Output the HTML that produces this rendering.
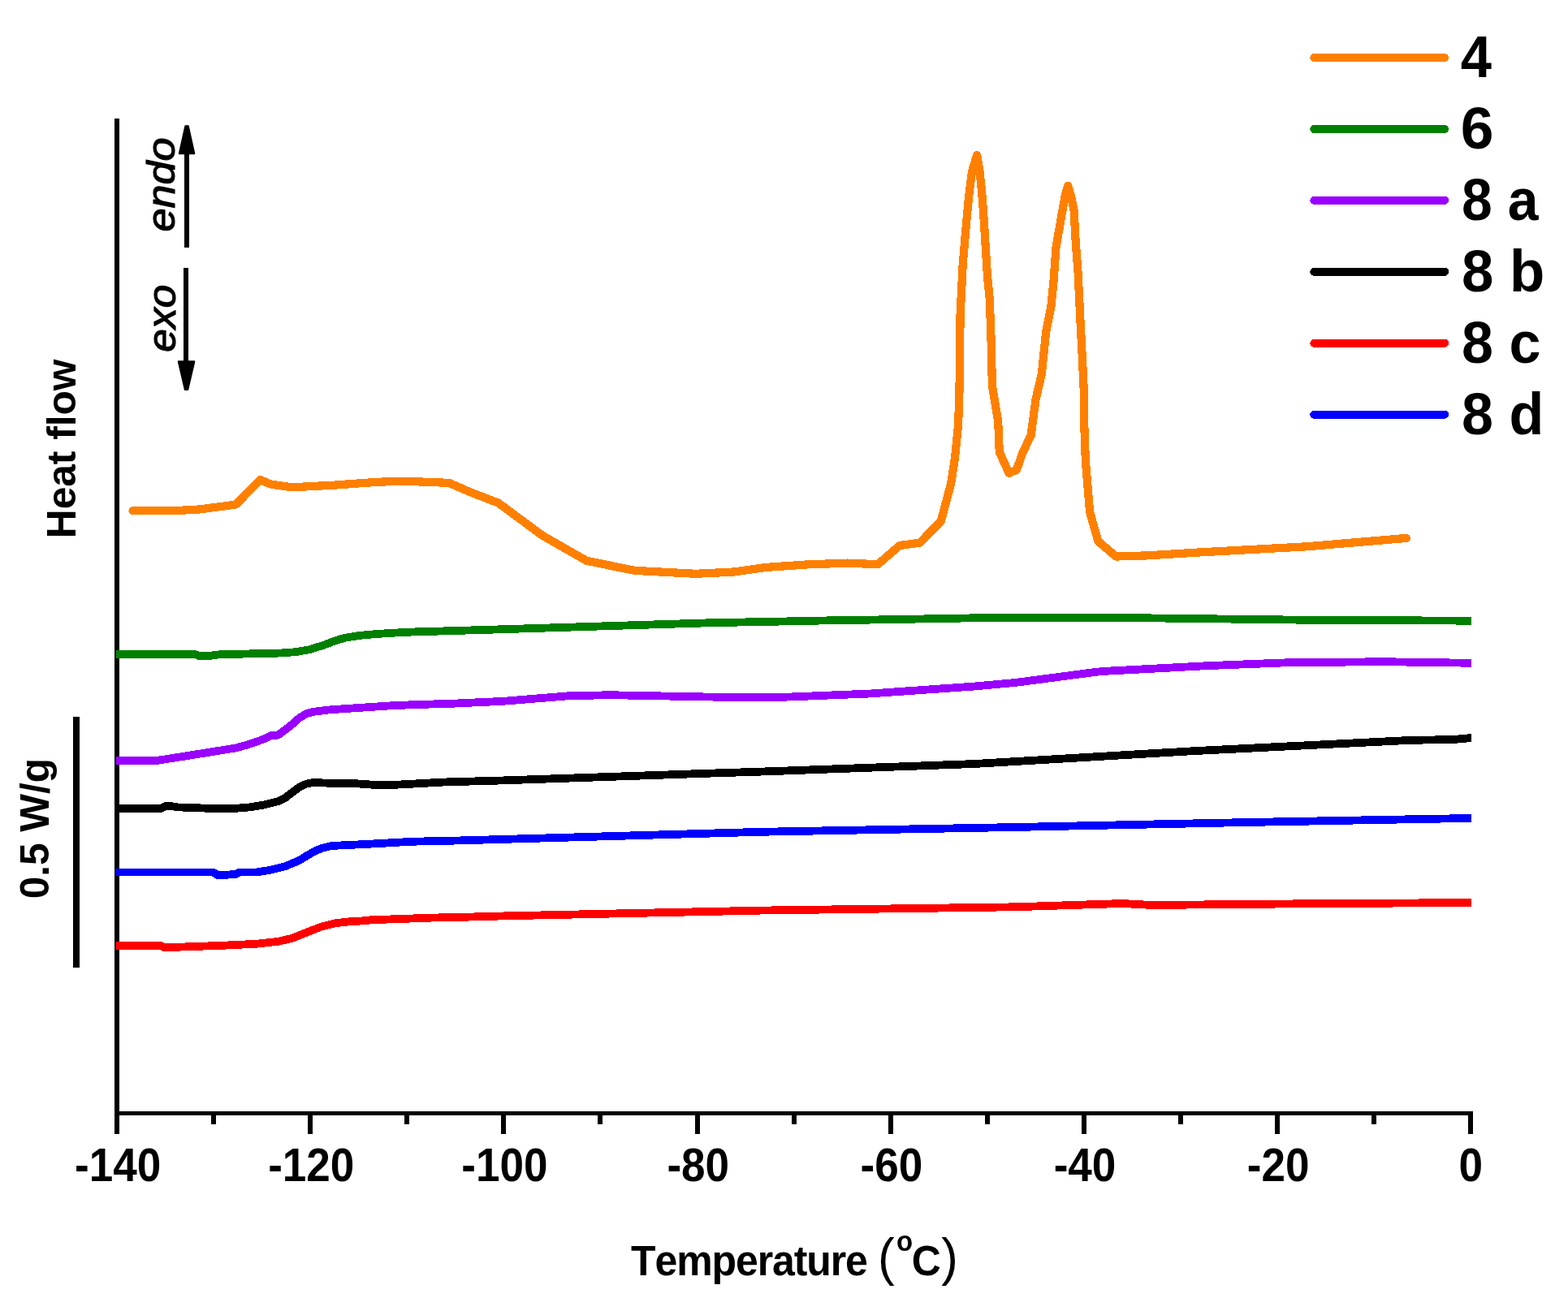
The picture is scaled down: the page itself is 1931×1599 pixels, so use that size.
<!DOCTYPE html>
<html lang="en"><head><meta charset="utf-8"><title>DSC heat flow</title>
<style>
html,body{margin:0;padding:0;background:#fff;}
body{width:1931px;height:1599px;overflow:hidden;}
svg{display:block;font-family:"Liberation Sans",Arial,Helvetica,sans-serif;font-kerning:none;}
</style></head><body>
<svg width="1931" height="1599" viewBox="0 0 1931 1599">
<rect width="1931" height="1599" fill="#fff"/>
<g fill="#000" shape-rendering="crispEdges">
<rect x="141" y="146" width="6" height="1228"/>
<rect x="141" y="1369" width="1673" height="5"/>
<rect x="141" y="1371" width="6" height="26"/>
<rect x="260" y="1371" width="6" height="14"/>
<rect x="379" y="1371" width="6" height="26"/>
<rect x="498" y="1371" width="6" height="14"/>
<rect x="617" y="1371" width="6" height="26"/>
<rect x="736" y="1371" width="6" height="14"/>
<rect x="856" y="1371" width="6" height="26"/>
<rect x="975" y="1371" width="6" height="14"/>
<rect x="1094" y="1371" width="6" height="26"/>
<rect x="1213" y="1371" width="6" height="14"/>
<rect x="1332" y="1371" width="6" height="26"/>
<rect x="1451" y="1371" width="6" height="14"/>
<rect x="1570" y="1371" width="6" height="26"/>
<rect x="1689" y="1371" width="6" height="14"/>
<rect x="1808" y="1371" width="6" height="26"/>
</g>
<polyline points="163.5,629.3 221.7,628.8 245.0,627.5 290.3,621.6 320.6,591.0 333.0,596.4 359.0,600.3 410.7,597.7 462.5,593.9 496.0,592.6 553.0,594.9 580.0,606.6 613.7,619.6 668.0,659.7 722.4,690.8 782.0,702.9 857.0,706.8 903.7,704.5 942.5,699.0 994.3,695.4 1043.5,693.6 1081.1,695.2 1108.0,672.0 1132.9,668.5 1158.8,642.0 1171.2,595.4 1176.0,564.3 1180.1,522.9 1181.5,481.4 1182.0,440.0 1182.6,387.9 1185.7,325.7 1189.2,284.3 1193.0,242.9 1196.9,211.8 1203.1,191.0 1206.6,211.8 1209.3,238.4 1211.8,272.5 1213.9,306.7 1216.0,340.0 1218.6,367.1 1220.3,408.6 1221.1,440.0 1221.9,475.2 1229.2,518.7 1230.8,557.0 1242.6,582.9 1252.0,578.8 1259.2,558.1 1269.6,536.3 1275.6,491.8 1282.8,460.7 1288.2,408.6 1294.4,377.5 1297.5,346.4 1300.5,305.0 1306.9,267.7 1312.2,238.7 1315.2,228.8 1319.3,242.9 1322.6,259.4 1324.5,294.6 1327.6,336.1 1329.6,377.5 1331.7,418.9 1332.8,440.0 1334.8,481.4 1335.4,527.0 1336.9,568.4 1342.1,630.6 1352.4,666.8 1374.2,685.5 1412.5,684.4 1479.5,680.3 1609.0,673.3 1732.0,662.9" fill="none" stroke="#FF8000" stroke-width="10.2" stroke-linecap="round" stroke-linejoin="round" shape-rendering="crispEdges"/>
<polyline points="143.0,805.9 240.0,805.9 245.0,807.9 258.0,807.9 270.0,806.3 300.0,805.6 320.0,805.1 346.3,804.5 363.8,803.2 381.3,800.2 398.8,794.7 411.9,789.5 425.1,785.7 442.6,782.9 460.1,781.3 480.0,779.9 508.4,778.5 560.0,777.0 620.0,775.2 876.0,767.2 940.0,766.0 1037.6,764.0 1060.0,763.8 1200.0,761.3 1385.0,761.0 1604.0,763.7 1812.0,764.7" fill="none" stroke="#008000" stroke-width="9.8" stroke-linecap="butt" stroke-linejoin="round" shape-rendering="crispEdges"/>
<polyline points="143.0,937.0 193.0,937.0 233.5,930.6 290.0,921.5 307.5,916.7 325.0,910.4 333.8,906.1 342.5,905.6 351.3,899.0 360.0,892.1 368.8,884.3 377.6,879.0 386.3,876.8 403.8,874.6 421.3,873.3 450.0,871.4 480.0,869.4 508.4,868.2 560.0,866.6 620.0,863.8 701.0,857.2 751.5,856.2 876.0,858.6 940.0,859.0 970.3,858.6 1071.3,854.5 1200.0,845.5 1250.0,841.0 1351.5,827.6 1365.0,826.6 1486.0,820.2 1587.0,816.2 1705.0,815.2 1812.0,816.8" fill="none" stroke="#9900FF" stroke-width="9.8" stroke-linecap="butt" stroke-linejoin="round" shape-rendering="crispEdges"/>
<polyline points="143.0,995.8 199.0,995.8 204.0,992.8 209.0,992.8 219.0,994.4 255.0,995.7 290.0,995.8 307.5,994.4 325.0,991.5 342.5,987.1 351.3,982.8 360.0,976.2 368.8,969.5 377.6,965.5 386.3,963.9 403.8,964.7 438.9,965.3 464.4,967.1 490.3,966.6 547.2,963.5 620.0,961.4 869.3,952.8 940.0,950.5 1200.0,941.0 1469.3,925.2 1738.6,911.8 1789.0,911.1 1812.0,909.0" fill="none" stroke="#000000" stroke-width="9.8" stroke-linecap="butt" stroke-linejoin="round" shape-rendering="crispEdges"/>
<polyline points="143.0,1165.0 197.7,1165.0 202.9,1167.3 275.4,1164.7 290.0,1164.0 316.3,1162.7 342.5,1159.8 360.0,1155.8 377.6,1148.7 395.1,1141.8 412.6,1137.3 430.1,1135.3 450.0,1134.2 456.6,1133.3 534.3,1130.5 560.0,1130.1 620.0,1128.4 936.6,1121.6 1250.0,1117.3 1381.8,1113.0 1418.8,1115.0 1604.0,1113.3 1812.0,1112.0" fill="none" stroke="#FF0000" stroke-width="9.8" stroke-linecap="butt" stroke-linejoin="round" shape-rendering="crispEdges"/>
<polyline points="143.0,1074.4 262.4,1074.4 268.9,1078.5 290.0,1076.9 295.3,1074.6 316.3,1074.5 333.8,1071.6 351.3,1067.2 368.8,1059.8 377.6,1054.3 386.3,1049.4 395.1,1045.3 408.2,1042.0 425.7,1041.1 450.0,1040.0 508.4,1036.7 560.0,1035.6 620.0,1033.9 936.6,1024.8 1250.0,1019.0 1536.6,1013.0 1812.0,1007.9" fill="none" stroke="#0000FF" stroke-width="9.8" stroke-linecap="butt" stroke-linejoin="round" shape-rendering="crispEdges"/>
<text transform="translate(92.02,1454.8) scale(0.9651,1.04)" font-weight="bold" font-size="55" fill="#000">-140</text>
<text transform="translate(330.16,1454.8) scale(0.9651,1.04)" font-weight="bold" font-size="55" fill="#000">-120</text>
<text transform="translate(568.30,1454.8) scale(0.9651,1.04)" font-weight="bold" font-size="55" fill="#000">-100</text>
<text transform="translate(821.41,1454.8) scale(0.9651,1.04)" font-weight="bold" font-size="55" fill="#000">-80</text>
<text transform="translate(1059.55,1454.8) scale(0.9651,1.04)" font-weight="bold" font-size="55" fill="#000">-60</text>
<text transform="translate(1297.69,1454.8) scale(0.9651,1.04)" font-weight="bold" font-size="55" fill="#000">-40</text>
<text transform="translate(1535.83,1454.8) scale(0.9651,1.04)" font-weight="bold" font-size="55" fill="#000">-20</text>
<text transform="translate(1796.62,1454.8) scale(0.9651,1.04)" font-weight="bold" font-size="55" fill="#000">0</text>
<text transform="translate(93.20,663.18) rotate(-90) scale(0.9927,1.0083)" font-weight="bold" font-style="normal" font-size="50" fill="#000">Heat flow</text>
<text transform="translate(60.33,1107.28) rotate(-90) scale(0.9894,0.9870)" font-weight="bold" font-style="normal" font-size="50" fill="#000">0.5 W/g</text>
<text transform="translate(1798.72,94.90) scale(0.9816,1.0400)" font-weight="bold" font-style="normal" font-size="70" fill="#000">4</text>
<text transform="translate(1798.86,182.86) scale(1.0455,1.0400)" font-weight="bold" font-style="normal" font-size="70" fill="#000">6</text>
<text transform="translate(1800.06,270.82) scale(0.9698,1.0400)" font-weight="bold" font-style="normal" font-size="70" fill="#000">8 a</text>
<text transform="translate(1799.98,358.78) scale(1.0115,1.0400)" font-weight="bold" font-style="normal" font-size="70" fill="#000">8 b</text>
<text transform="translate(1800.00,446.74) scale(1.0011,1.0400)" font-weight="bold" font-style="normal" font-size="70" fill="#000">8 c</text>
<text transform="translate(1800.00,534.70) scale(1.0011,1.0400)" font-weight="bold" font-style="normal" font-size="70" fill="#000">8 d</text>
<text transform="translate(0,1571) scale(1,1.045)" font-weight="bold" font-size="50" fill="#000"><tspan x="777" y="0" letter-spacing="-1.09">Temperature</tspan><tspan x="1067" y="0" letter-spacing="0"> </tspan><tspan x="1080.9" y="0" font-size="62" font-weight="normal">(</tspan><tspan x="1103.9" y="-28.7" font-size="33">o</tspan><tspan x="1122.8" y="0">C</tspan><tspan x="1159.2" y="0" font-size="62" font-weight="normal">)</tspan></text>
<text transform="translate(215.4,285.6) rotate(-90) scale(1.045,0.95)" font-style="italic" font-size="50" fill="#000" stroke="#000" stroke-width="1.2" stroke-linejoin="round">endo</text>
<text transform="translate(216.4,433.7) rotate(-90) scale(1.03,0.97)" font-style="italic" font-size="50" fill="#000" stroke="#000" stroke-width="1.2" stroke-linejoin="round">exo</text>
<rect x="90" y="883" width="8" height="309" fill="#000" shape-rendering="crispEdges"/>
<rect x="227" y="188" width="6" height="117" fill="#000" shape-rendering="crispEdges"/>
<polygon points="228.2,155 231.9,155 239.4,188.6 239.4,189.5 220.7,189.5 220.7,188.6" fill="#000" stroke="#000" stroke-width="1.6" stroke-linejoin="round"/>
<rect x="226" y="330" width="6" height="116" fill="#000" shape-rendering="crispEdges"/>
<polygon points="227.7,480.2 231.4,480.2 239.4,446 239.4,445 219.7,445 219.7,446" fill="#000" stroke="#000" stroke-width="1.6" stroke-linejoin="round"/>
<line x1="1618.3" y1="70.9" x2="1779.2" y2="70.9" stroke="#FF8000" stroke-width="10" stroke-linecap="round" shape-rendering="crispEdges"/>
<line x1="1618.3" y1="158.9" x2="1779.2" y2="158.9" stroke="#008000" stroke-width="10" stroke-linecap="round" shape-rendering="crispEdges"/>
<line x1="1618.3" y1="246.8" x2="1779.2" y2="246.8" stroke="#9900FF" stroke-width="10" stroke-linecap="round" shape-rendering="crispEdges"/>
<line x1="1618.3" y1="334.8" x2="1779.2" y2="334.8" stroke="#000000" stroke-width="10" stroke-linecap="round" shape-rendering="crispEdges"/>
<line x1="1618.3" y1="422.7" x2="1779.2" y2="422.7" stroke="#FF0000" stroke-width="10" stroke-linecap="round" shape-rendering="crispEdges"/>
<line x1="1618.3" y1="510.7" x2="1779.2" y2="510.7" stroke="#0000FF" stroke-width="10" stroke-linecap="round" shape-rendering="crispEdges"/>
</svg></body></html>
